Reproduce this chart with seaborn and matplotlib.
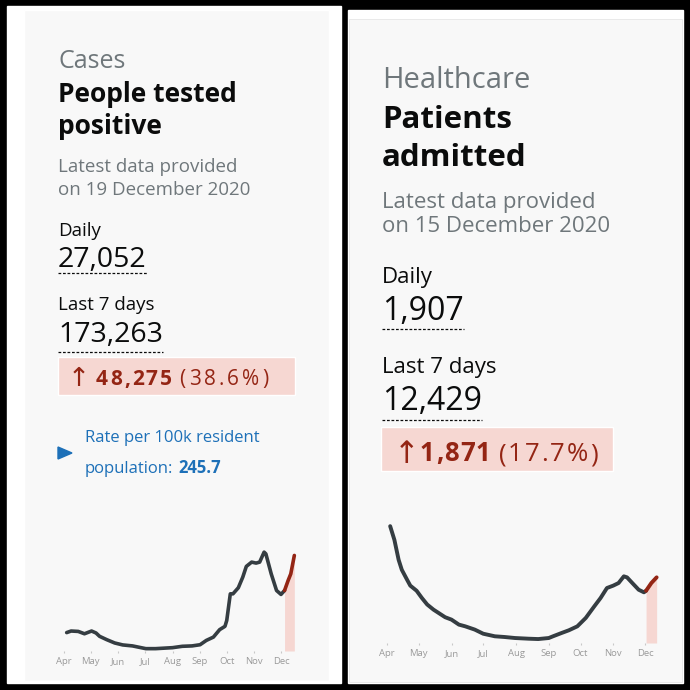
import pandas as pd
import matplotlib.pyplot as plt
import matplotlib.dates as mdates
from matplotlib.patches import Rectangle, Polygon
import seaborn as sns

# cases: 7-day average by specimen date
case_dates = ['2020-04-04', '2020-04-09', '2020-04-17', '2020-04-24', '2020-05-02',
              '2020-05-07', '2020-05-11', '2020-05-19', '2020-05-28', '2020-06-06',
              '2020-06-17', '2020-07-02', '2020-07-13', '2020-08-01', '2020-08-12',
              '2020-08-23', '2020-09-01', '2020-09-08', '2020-09-16', '2020-09-23',
              '2020-09-29', '2020-10-01', '2020-10-05', '2020-10-08', '2020-10-14',
              '2020-10-19', '2020-10-23', '2020-10-29', '2020-11-03', '2020-11-07',
              '2020-11-12', '2020-11-14', '2020-11-20', '2020-11-26', '2020-12-01',
              '2020-12-05', '2020-12-09', '2020-12-12', '2020-12-16']
case_values = [4700, 5100, 5000, 4400, 5100, 4600, 3750, 2900, 2050, 1550,
               1300, 600, 600, 850, 1200, 1300, 1600, 2700, 3550, 5450,
               6300, 7800, 14600, 14600, 16150, 18850, 21600, 22700, 22450, 22700,
               25250, 24800, 19700, 15450, 14450, 15450, 18000, 19700, 24400]
case_recent = '2020-12-05'

# patients admitted
admit_dates = ['2020-04-04', '2020-04-08', '2020-04-12', '2020-04-15', '2020-04-20',
               '2020-04-23', '2020-04-29', '2020-05-04', '2020-05-09', '2020-05-15',
               '2020-05-20', '2020-05-26', '2020-06-01', '2020-06-08', '2020-06-14',
               '2020-06-23', '2020-07-01', '2020-07-12', '2020-07-21', '2020-07-31',
               '2020-08-13', '2020-08-22', '2020-09-01', '2020-09-05', '2020-09-13',
               '2020-09-20', '2020-09-28', '2020-10-06', '2020-10-14', '2020-10-20',
               '2020-10-26', '2020-11-01', '2020-11-06', '2020-11-11', '2020-11-14',
               '2020-11-19', '2020-11-25', '2020-11-30', '2020-12-02', '2020-12-07',
               '2020-12-12']
admit_values = [3400, 3000, 2420, 2130, 1840, 1670, 1520, 1310, 1120, 970,
                870, 750, 680, 535, 485, 390, 270, 195, 175, 145,
                125, 115, 145, 195, 290, 370, 485, 730, 1065, 1310,
                1600, 1670, 1745, 1940, 1910, 1745, 1550, 1475, 1520, 1745,
                1910]
admit_recent = '2020-12-02'

month_starts = ['2020-04-01', '2020-05-01', '2020-06-01', '2020-07-01', '2020-08-01',
                '2020-09-01', '2020-10-01', '2020-11-01', '2020-12-01']
month_labels = ['Apr', 'May', 'Jun', 'Jul', 'Aug', 'Sep', 'Oct', 'Nov', 'Dec']

INK = '#0b0c0c'
GREY = '#6f777b'
RED = '#942514'
PINK = '#f6d7d2'
BLUE = '#1d70b8'
LINE = '#353d42'

sns.set_style('white')
plt.rcParams['font.family'] = ['Open Sans', 'DejaVu Sans']

W = H = 690
fig = plt.figure(figsize=(6.9, 6.9), dpi=100)
fig.patch.set_facecolor('black')
bg = fig.add_axes([0, 0, 1, 1])
bg.set_xlim(0, W)
bg.set_ylim(H, 0)
bg.axis('off')


def box(x0, y0, x1, y1, color, **kw):
    bg.add_patch(Rectangle((x0, y0), x1 - x0, y1 - y0, facecolor=color, **kw))


def txt(x, y, s, size, color=INK, weight='normal', **kw):
    return bg.text(x, y, s, fontsize=size, color=color, fontweight=weight,
                   va='baseline', ha='left', **kw)


renderer = fig.canvas.get_renderer()


def right_edge(t):
    return t.get_window_extent(renderer).x1


def spaced(x, y, s, size, color, weight='normal', track=3):
    # the dashboard sets the change figures with wide letter spacing
    for ch in s:
        t = txt(x, y, ch, size, color, weight)
        x = right_edge(t) + track
    return x - track


def underline(t, x0, y):
    bg.plot([x0, right_edge(t)], [y, y], ls=(0, (2.2, 1.4)), lw=0.9, color=INK)


def sparkline(x0, x1, y_top, y_base, apr_px, dec_px, ymax, dates, values, recent, lw):
    ax = fig.add_axes([x0 / W, 1 - y_base / H, (x1 - x0) / W, (y_base - y_top) / H])
    df = pd.DataFrame({'date': pd.to_datetime(dates), 'value': values})
    cut = pd.Timestamp(recent)
    old = df[df['date'] <= cut]
    new = df[df['date'] >= cut]
    ax.fill_between(new['date'], 0, new['value'], color=PINK, lw=0, zorder=0)
    sns.lineplot(data=old, x='date', y='value', color=LINE, lw=lw, ax=ax)
    sns.lineplot(data=new, x='date', y='value', color=RED, lw=lw, ax=ax)
    a = mdates.date2num(pd.Timestamp(month_starts[0]))
    d = mdates.date2num(pd.Timestamp(month_starts[-1]))
    ppd = (dec_px - apr_px) / (d - a)
    ax.set_xlim(a - (apr_px - x0) / ppd, d + (x1 - dec_px) / ppd)
    ax.set_ylim(0, ymax)
    ax.set_xticks(pd.to_datetime(month_starts))
    ax.set_xticklabels(month_labels)
    ax.set_yticks([])
    ax.tick_params(axis='x', length=1.5, width=0.8, color='#c8c8c8', pad=3,
                   labelsize=6.8, labelcolor='#9a9a9a', bottom=True)
    for s in ax.spines.values():
        s.set_visible(False)
    ax.set_facecolor('none')
    ax.set_xlabel('')
    ax.set_ylabel('')
    return ax


# card backgrounds
box(7, 6, 341, 683, 'white')
box(24, 10, 329, 681, '#f8f8f8')
box(348, 10, 683, 683, 'white')
box(349, 19, 682, 682, '#f8f8f8', edgecolor='#e6e6e6', lw=0.6)

# left card: cases
txt(58, 68, 'Cases', 18, GREY)
txt(58, 102, 'People tested', 19, weight='bold')
txt(58, 134, 'positive', 19, weight='bold')
txt(58, 172, 'Latest data provided', 13.5, GREY)
txt(58, 195, 'on 19 December 2020', 13.5, GREY)
txt(58, 236, 'Daily', 13.5)
underline(txt(58, 267, '27,052', 20.5), 58, 273)
txt(58, 310, 'Last 7 days', 13.5)
underline(txt(58, 342, '173,263', 20.5), 58, 352)
box(58, 357, 295, 395, PINK)
txt(68, 386, '↑', 19, RED, family=['DejaVu Sans'])
x_end = spaced(96, 385, '48,275', 15, RED, weight='bold', track=2)
spaced(x_end + 8, 385, '(38.6%)', 15, RED, track=3)
bg.add_patch(Polygon([(58, 447), (72, 453), (58, 459)], closed=True, color=BLUE))
txt(85, 442, 'Rate per 100k resident', 12, BLUE)
t = txt(85, 473, 'population:', 12, BLUE)
txt(right_edge(t) + 5, 473, '245.7', 12, BLUE, weight='bold')

sparkline(52, 305, 530, 651, 64, 281, 30900,
          case_dates, case_values, case_recent, 2.6)

# right card: healthcare
txt(382, 88, 'Healthcare', 21, GREY)
txt(382, 128, 'Patients', 22.5, weight='bold')
txt(382, 166, 'admitted', 22.5, weight='bold')
txt(382, 208, 'Latest data provided', 16, GREY)
txt(382, 232, 'on 15 December 2020', 16, GREY)
txt(382, 283, 'Daily', 16)
underline(txt(382, 320, '1,907', 23), 382, 329)
txt(382, 373, 'Last 7 days', 16)
underline(txt(382, 410, '12,429', 23), 382, 420)
box(381, 427, 613, 471, PINK)
txt(394, 463, '↑', 22, RED, family=['DejaVu Sans'])
x_end = spaced(420, 461, '1,871', 18.5, RED, weight='bold', track=1)
spaced(x_end + 8, 461, '(17.7%)', 18.5, RED, track=2)

sparkline(375, 670, 510, 643, 387, 645, 3870,
          admit_dates, admit_values, admit_recent, 2.8)

fig.savefig('out.png', dpi=100, facecolor=fig.get_facecolor())
